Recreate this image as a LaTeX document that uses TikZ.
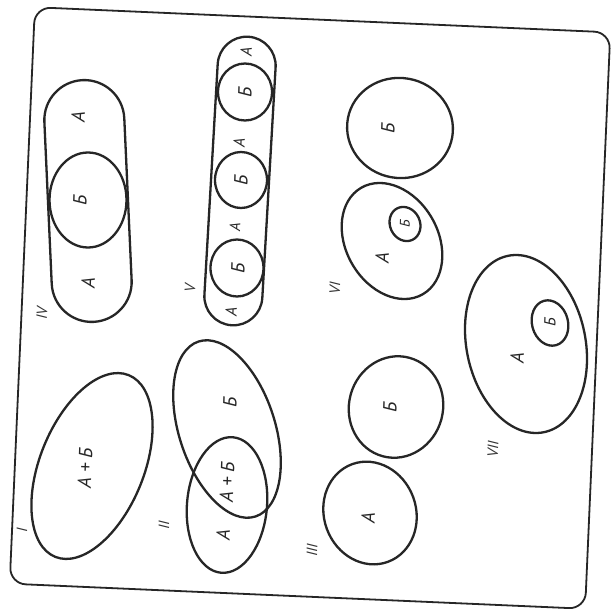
\documentclass[tikz,border=0pt]{standalone}
\usepackage{fontspec}
\setmainfont{PT Sans}
\usetikzlibrary{shapes.geometric}
\begin{document}
\begin{tikzpicture}[x=1pt,y=-1pt,
  ln/.style={draw=black!85, line width=2.3pt},
  ell/.style={ln, ellipse, inner sep=0pt, outer sep=0pt},
  stad/.style={ln, rectangle, inner sep=0pt, outer sep=0pt},
  lab/.style={font=\fontsize{19}{21}\selectfont\itshape, rotate=88, text=black!85, inner sep=0pt},
  num/.style={font=\fontsize{15}{17}\selectfont\itshape, rotate=88, text=black!80, inner sep=0pt}]
\useasboundingbox (0,0) rectangle (610,615);
\fill[white] (0,0) rectangle (610,615);
% frame
\node[draw=black!85, line width=1.8pt, rectangle, rounded corners=16pt, minimum width=576pt, minimum height=577pt, rotate=-2.5] (frame) at (310,308) {};
% I
\node[ell, minimum width=104pt, minimum height=196pt, rotate=-22] (IAB) at (92,466) {};
\node[lab] (tIAB) at (85,468) {А + Б};
\node[num] (nI) at (22,530) {I};
% II
\node[ell, minimum width=96pt, minimum height=184pt, rotate=18] (IIB) at (227,429) {};
\node[ell, minimum width=80pt, minimum height=136pt, rotate=-5] (IIA) at (227,505) {};
\node[lab] (tIIB) at (230,402) {Б};
\node[lab] (tIIAB) at (227,482) {А + Б};
\node[lab] (tIIA) at (223,535) {А};
\node[num] (nII) at (164,525) {II};
% III
\node[ell, minimum width=94pt, minimum height=102pt, rotate=-15] (IIIB) at (396,407) {};
\node[ell, minimum width=92pt, minimum height=104pt, rotate=20] (IIIA) at (370,513) {};
\node[lab] (tIIIB) at (390,407) {Б};
\node[lab] (tIIIA) at (368,518) {А};
\node[num] (nIII) at (312,550) {III};
% IV
\node[stad, rounded corners=40pt, minimum width=80pt, minimum height=242pt, rotate=2.6] (IVA) at (88,201) {};
\node[ell, minimum width=77pt, minimum height=95pt] (IVB) at (88,200) {};
\node[lab] (tIVA1) at (78,117) {А};
\node[lab] (tIVB) at (80,200) {Б};
\node[lab] (tIVA2) at (88,283) {А};
\node[num] (nIV) at (42,313) {IV};
% V
\node[stad, rounded corners=29pt, minimum width=58pt, minimum height=289pt, rotate=-3.3] (VA) at (240,181) {};
\node[ell, minimum width=54pt, minimum height=57pt] (VB1) at (245,92) {};
\node[ell, minimum width=52pt, minimum height=56pt] (VB2) at (241,180) {};
\node[ell, minimum width=53pt, minimum height=57pt] (VB3) at (237,268) {};
\node[lab, font=\fontsize{16}{18}\selectfont\itshape] (tVA1) at (246,52) {А};
\node[lab] (tVB1) at (245,92) {Б};
\node[lab, font=\fontsize{16}{18}\selectfont\itshape] (tVA2) at (239,143) {А};
\node[lab] (tVB2) at (241,180) {Б};
\node[lab, font=\fontsize{15}{17}\selectfont\itshape] (tVA3) at (235,227) {А};
\node[lab] (tVB3) at (238,268) {Б};
\node[lab, font=\fontsize{16}{18}\selectfont\itshape] (tVA4) at (231,312) {А};
\node[num] (nV) at (190,288) {V};
% VI
\node[ell, minimum width=106pt, minimum height=100pt, rotate=-10] (VIB) at (400,128) {};
\node[ell, minimum width=92pt, minimum height=123pt, rotate=30] (VIA) at (392,241) {};
\node[ell, minimum width=30pt, minimum height=35pt, rotate=25] (VIin) at (405,224) {};
\node[lab] (tVIB) at (388,128) {Б};
\node[lab] (tVIA) at (382,258) {А};
\node[lab, font=\fontsize{14}{16}\selectfont\itshape] (tVIin) at (405,224) {Б};
\node[num] (nVI) at (335,288) {VI};
% VII
\node[ell, minimum width=119pt, minimum height=180pt, rotate=11.5] (VIIA) at (526,344) {};
\node[ell, minimum width=36pt, minimum height=46pt, rotate=15] (VIIB) at (550,323) {};
\node[lab, font=\fontsize{16}{18}\selectfont\itshape] (tVIIB) at (550,322) {Б};
\node[lab] (tVIIA) at (517,358) {А};
\node[num] (nVII) at (493,449) {VII};
\end{tikzpicture}
\end{document}
